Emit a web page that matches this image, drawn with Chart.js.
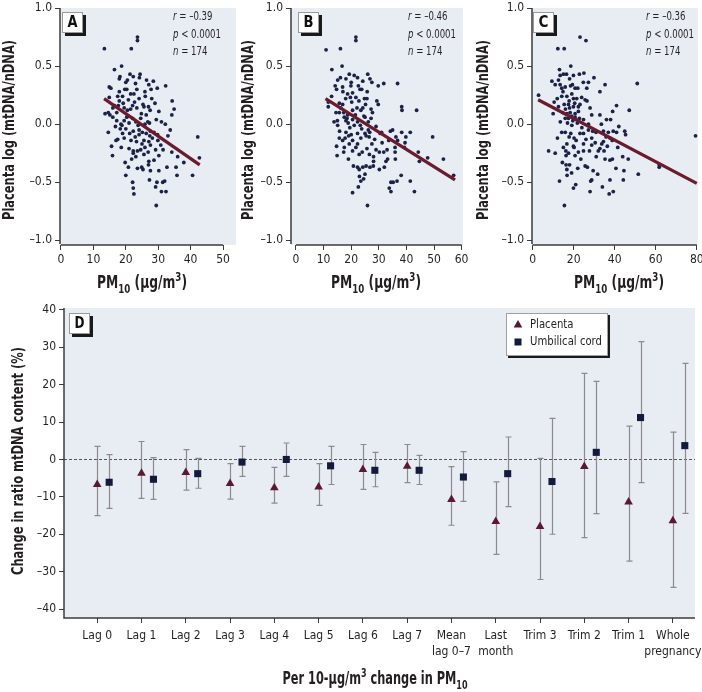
<!DOCTYPE html>
<html>
<head>
<meta charset="utf-8">
<script src="https://cdn.jsdelivr.net/npm/chart.js@4.4.1/dist/chart.umd.min.js"></script>
<style>
    html, body { margin: 0; padding: 0; background: #fff; }
    #page { position: relative; width: 702px; height: 692px; overflow: hidden; background: #fff; }
    canvas { position: absolute; }
</style>
</head>
<body>
<div id="page">
    <canvas id="panelA" width="240" height="300" style="left:0px;top:0px"></canvas>
    <canvas id="panelB" width="240" height="300" style="left:230px;top:0px"></canvas>
    <canvas id="panelC" width="240" height="300" style="left:462px;top:0px"></canvas>
    <canvas id="panelD" width="702" height="392" style="left:0px;top:300px"></canvas>
</div>
<script>
"use strict";

/** DATA */

// Panel A: PM10 exposure vs placental log(mtDNA/nDNA)
const pointsA = [
    [23.6,0.75],[23.6,0.72],[13.4,0.65],[21.7,0.65],[16.5,0.47],[18.7,0.50],[18.2,0.41],[18.0,0.39],[21.3,0.43],[22.3,0.41],
    [24.4,0.43],[20.5,0.38],[26.4,0.38],[28.5,0.37],[27.1,0.34],[29.7,0.31],[32.3,0.33],[14.9,0.32],[15.4,0.31],[19.7,0.30],
    [20.3,0.30],[21.5,0.26],[23.4,0.30],[25.9,0.28],[17.5,0.24],[19.0,0.24],[24.1,0.22],[28.0,0.22],[34.3,0.20],[14.9,0.23],
    [13.6,0.09],[14.6,0.10],[15.1,0.08],[16.5,0.16],[16.0,0.14],[17.7,0.16],[19.5,0.14],[20.5,0.12],[21.5,0.13],[22.1,0.16],
    [23.4,0.14],[25.3,0.17],[25.6,0.15],[27.0,0.15],[27.5,0.12],[26.3,0.08],[30.2,0.11],[34.9,0.13],[34.2,0.08],[16.0,0.06],
    [17.2,0.03],[18.5,0.00],[19.5,0.03],[20.7,0.07],[22.1,0.05],[23.1,0.02],[24.6,0.05],[25.9,0.00],[27.3,0.01],[29.4,0.04],
    [31.0,0.02],[32.2,0.00],[18.8,-0.01],[14.6,-0.07],[18.3,-0.04],[20.0,-0.04],[21.2,-0.08],[22.3,-0.06],[24.1,-0.05],[25.1,-0.07],
    [26.3,-0.08],[27.6,-0.06],[28.7,-0.07],[29.8,-0.09],[27.4,-0.10],[24.1,-0.09],[33.7,-0.05],[17.5,-0.13],[17.0,-0.14],[19.5,-0.12],
    [21.6,-0.14],[23.3,-0.15],[25.6,-0.14],[27.1,-0.15],[29.9,-0.14],[27.6,-0.18],[25.9,-0.20],[24.6,-0.22],[23.6,-0.23],[22.3,-0.23],
    [21.0,-0.21],[18.6,-0.20],[15.6,-0.19],[15.9,-0.27],[22.3,-0.25],[23.1,-0.28],[26.9,-0.24],[29.2,-0.22],[28.7,-0.31],[27.1,-0.32],
    [30.2,-0.27],[34.2,-0.24],[36.0,-0.28],[37.9,-0.33],[42.2,-0.11],[42.7,-0.29],[20.8,-0.37],[23.6,-0.38],[24.9,-0.37],[25.3,-0.39],
    [27.6,-0.40],[30.2,-0.40],[32.7,-0.37],[35.5,-0.37],[35.8,-0.44],[40.6,-0.44],[20.0,-0.44],[22.1,-0.50],[27.3,-0.48],[29.6,-0.50],
    [32.0,-0.49],[31.4,-0.50],[22.3,-0.55],[22.5,-0.60],[29.2,-0.54],[31.0,-0.58],[32.4,-0.58],[29.4,-0.70],[18.0,0.20],[19.2,0.18],
    [20.8,0.21],[22.7,0.19],[24.8,0.09],[21.0,0.01],[23.8,-0.01],[26.8,0.02],[19.0,-0.08],[22.9,-0.11],[25.0,-0.17],[28.2,-0.12],
    [30.8,-0.18],[17.2,0.10],[20.3,0.06],[26.0,0.24],[23.0,0.35],[27.8,0.30],[21.8,-0.30],[25.6,-0.26],[31.5,-0.22],[33.0,-0.10],
    [16.8,-0.02],[18.0,0.28],[24.2,0.40],[20.0,0.36],[29.0,0.18],[27.0,-0.35],[19.8,-0.33],[22.5,0.26]
];

// Panel B
const pointsB = [
    [21.7,0.75],[21.7,0.72],[10.9,0.64],[16.1,0.65],[13.0,0.47],[16.7,0.50],[16.1,0.40],[15.1,0.38],[19.3,0.43],[21.1,0.42],
    [22.3,0.40],[26.0,0.43],[26.8,0.39],[24.2,0.37],[18.1,0.39],[14.2,0.33],[14.7,0.30],[16.9,0.32],[19.9,0.33],[23.2,0.30],
    [23.8,0.30],[29.8,0.33],[31.8,0.35],[36.8,0.35],[18.7,0.26],[20.5,0.27],[21.7,0.23],[19.7,0.23],[24.8,0.22],[25.7,0.22],
    [12.9,0.24],[11.7,0.19],[15.7,0.18],[16.9,0.17],[29.3,0.20],[29.8,0.17],[38.3,0.15],[38.4,0.12],[43.7,0.12],[11.7,0.15],
    [14.5,0.10],[15.7,0.10],[17.3,0.10],[18.7,0.08],[20.5,0.12],[22.1,0.14],[23.5,0.12],[24.2,0.14],[27.2,0.13],[27.7,0.10],
    [17.5,0.06],[18.1,0.03],[18.9,0.01],[20.5,0.04],[22.3,0.02],[23.3,-0.01],[25.0,0.06],[27.2,0.05],[26.2,0.02],[15.0,0.03],
    [15.1,-0.01],[21.1,-0.01],[26.2,-0.05],[26.7,-0.07],[25.0,-0.08],[22.3,-0.08],[20.0,-0.09],[18.1,-0.07],[19.1,-0.10],[15.7,-0.12],
    [16.9,-0.14],[23.5,-0.12],[25.4,-0.10],[31.0,-0.07],[34.2,-0.06],[35.0,-0.05],[38.3,-0.07],[41.4,-0.07],[36.2,-0.11],[39.8,-0.11],
    [33.6,-0.14],[36.8,-0.14],[39.5,-0.16],[49.5,-0.11],[20.5,-0.14],[14.7,-0.19],[17.5,-0.20],[19.3,-0.17],[22.3,-0.17],[27.5,-0.17],
    [25.7,-0.21],[29.0,-0.22],[30.2,-0.24],[31.8,-0.24],[35.9,-0.20],[39.3,-0.20],[14.9,-0.27],[17.3,-0.24],[20.5,-0.23],[22.9,-0.26],
    [26.6,-0.26],[28.1,-0.28],[28.1,-0.32],[33.2,-0.30],[32.6,-0.32],[35.9,-0.24],[44.3,-0.24],[44.7,-0.32],[47.7,-0.29],[53.4,-0.30],
    [57.1,-0.44],[20.8,-0.36],[22.3,-0.37],[22.9,-0.39],[24.2,-0.37],[25.4,-0.36],[28.0,-0.36],[30.2,-0.39],[32.0,-0.37],[25.0,-0.43],
    [23.5,-0.49],[24.5,-0.47],[22.6,-0.54],[20.5,-0.59],[25.9,-0.70],[34.4,-0.50],[35.2,-0.50],[36.6,-0.49],[38.1,-0.44],[33.8,-0.55],
    [34.4,-0.58],[41.4,-0.49],[42.9,-0.58],[18.0,0.22],[20.2,0.19],[22.8,0.20],[24.6,0.07],[21.5,0.08],[19.5,-0.03],[23.8,-0.04],
    [26.5,-0.11],[17.8,-0.12],[21.7,-0.20],[24.0,-0.24],[28.5,-0.13],[30.5,-0.08],[16.2,0.14],[25.8,0.28],[27.5,0.36],[13.8,0.02],
    [20.0,0.36],[31.2,-0.16],[33.0,-0.22],[19.0,-0.30],[26.8,-0.37],[17.0,0.28],[22.6,0.33],[25.2,0.17],[29.0,-0.02],[15.8,-0.06],
    [36.0,-0.30],[23.0,-0.45],[18.5,0.05]
];

// Panel C
const pointsC = [
    [23.1,0.75],[26.0,0.72],[12.3,0.65],[15.4,0.65],[2.9,0.25],[13.1,0.47],[18.6,0.50],[13.4,0.42],[15.0,0.43],[16.5,0.43],
    [19.9,0.42],[18.0,0.39],[22.8,0.43],[12.6,0.38],[9.4,0.37],[11.0,0.34],[13.4,0.34],[14.2,0.31],[15.9,0.32],[19.4,0.34],
    [20.7,0.31],[24.7,0.36],[27.2,0.36],[29.9,0.40],[26.4,0.31],[35.3,0.34],[51.0,0.35],[32.8,0.28],[14.2,0.24],[16.7,0.24],
    [19.1,0.26],[19.9,0.22],[21.5,0.22],[23.9,0.23],[25.6,0.21],[10.5,0.19],[12.6,0.15],[15.4,0.17],[17.5,0.17],[18.0,0.14],
    [19.9,0.15],[22.3,0.15],[23.1,0.17],[40.9,0.16],[47.1,0.12],[39.0,0.11],[14.7,0.10],[16.7,0.09],[18.3,0.10],[20.7,0.09],
    [22.3,0.11],[15.9,0.05],[17.5,0.05],[19.6,0.03],[20.7,0.06],[22.8,0.05],[24.8,0.04],[28.8,0.08],[32.8,0.08],[38.0,0.04],
    [17.0,0.01],[19.1,-0.01],[27.2,0.00],[14.2,-0.07],[15.9,-0.07],[18.6,-0.08],[23.1,-0.08],[24.8,-0.08],[27.2,-0.05],[29.3,-0.06],
    [30.9,-0.07],[34.5,-0.06],[36.9,-0.07],[39.3,-0.06],[40.9,-0.07],[44.9,-0.06],[45.3,-0.09],[12.1,-0.12],[20.2,-0.12],[21.2,-0.14],
    [28.8,-0.12],[35.8,-0.11],[37.7,-0.12],[38.8,-0.14],[34.5,-0.15],[16.7,-0.17],[19.9,-0.19],[24.8,-0.17],[28.8,-0.18],[33.7,-0.17],
    [36.4,-0.19],[79.4,-0.10],[7.8,-0.23],[11.0,-0.25],[16.2,-0.23],[17.5,-0.25],[20.2,-0.20],[22.3,-0.24],[24.8,-0.23],[27.7,-0.23],
    [32.0,-0.23],[32.8,-0.21],[34.8,-0.23],[16.3,-0.27],[20.7,-0.27],[35.3,-0.30],[37.7,-0.31],[38.9,-0.30],[43.9,-0.28],[46.6,-0.30],
    [16.3,-0.35],[18.0,-0.35],[16.7,-0.39],[22.0,-0.38],[25.6,-0.36],[26.7,-0.37],[31.7,-0.43],[40.6,-0.38],[44.5,-0.40],[51.5,-0.43],
    [61.7,-0.35],[61.7,-0.37],[13.1,-0.49],[28.3,-0.49],[28.8,-0.48],[37.7,-0.48],[44.2,-0.48],[19.9,-0.55],[28.0,-0.58],[34.0,-0.54],
    [37.3,-0.60],[39.3,-0.58],[15.5,-0.70],[17.8,0.20],[20.5,0.18],[14.8,0.28],[22.0,0.31],[16.0,0.13],[19.0,0.07],[21.8,0.01],
    [24.0,-0.03],[13.5,0.02],[17.8,-0.11],[26.0,-0.13],[30.5,-0.16],[15.0,-0.20],[23.5,-0.30],[19.0,-0.42],[31.0,-0.28],[28.0,0.14],
    [12.0,0.22],[18.5,0.33],[26.5,0.20],[33.5,0.00],[41.5,-0.20],[42.0,-0.02],[21.0,-0.52],[14.5,-0.33],[25.0,0.44],[16.8,-0.44],
    [36.0,0.04],[10.0,0.09],[29.5,-0.40]
];

// Regression lines (end points)
const fitA = [[13.3, 0.22], [42.8, -0.35]];
const fitB = [[10.7, 0.22], [57.6, -0.48]];
const fitC = [[2.7, 0.21], [80.0, -0.51]];

// Correlation statistics
const corrR = ['–0.39', '–0.46', '–0.36'];
const pValue = '0.0001';
const nSamples = 174;

// Tick labels
const xTicksA = [0, 10, 20, 30, 40, 50];
const xTicksB = [0, 10, 20, 30, 40, 50, 60];
const xTicksC = [0, 20, 40, 60, 80];
const yTicksScatter = [-1, -0.5, 0, 0.5, 1];

// Panel D: change in mtDNA content per 10-µg/m³ PM10
const periods = [
    'Lag 0', 'Lag 1', 'Lag 2', 'Lag 3', 'Lag 4', 'Lag 5', 'Lag 6', 'Lag 7',
    ['Mean', 'lag 0–7'], ['Last', 'month'], 'Trim 3', 'Trim 2', 'Trim 1', ['Whole', 'pregnancy']
];
const placentaEst  = [-6.7, -3.7, -3.5, -6.4, -7.6, -7.4, -2.7, -1.8, -10.7, -16.6, -17.9, -1.9, -11.4, -16.4];
const placentaLow  = [-15.0, -10.4, -8.2, -10.6, -11.7, -12.3, -8.0, -6.2, -17.6, -25.4, -32.1, -20.9, -27.2, -34.2];
const placentaHigh = [3.5, 4.8, 2.6, -1.1, -2.1, -1.1, 4.0, 4.0, -1.9, -6.0, 0.3, 23.0, 8.9, 7.3];
const cordEst  = [-6.1, -5.3, -3.8, -0.7, 0.0, -1.7, -2.9, -2.9, -4.7, -3.8, -5.9, 1.9, 11.2, 3.7];
const cordLow  = [-13.1, -10.7, -7.7, -4.5, -4.5, -6.7, -7.3, -6.7, -11.2, -12.6, -20.0, -14.5, -6.2, -14.4];
const cordHigh = [1.3, 0.5, 0.3, 3.5, 4.4, 3.5, 1.9, 1.1, 2.1, 6.0, 11.0, 20.9, 31.5, 25.7];
const yTicksD = [-40, -30, -20, -10, 0, 10, 20, 30, 40];


/** STYLE */

const FONT = "'Liberation Sans Narrow', 'DejaVu Sans Condensed', 'Arial Narrow', sans-serif";
const INK = '#231f20';
const AXIS = '#3b3b3b';
const PANEL_BG = '#e8edf3';
const DOT = '#1b2246';
const FIT = '#6b1b2d';
const TRI = '#5a1932';
const SQR = '#141a3c';
const WHISKER = '#8b8b8b';
const CORD_SHIFT = 0.27;

Chart.defaults.font.family = FONT;
Chart.defaults.color = INK;
Chart.defaults.animation = false;

const PM10_LABEL = [['PM', ''], ['10', 'sub'], [' (µg/m', ''], ['3', 'sup'], [')', '']];
const D_LABEL = [['Per 10-µg/m', ''], ['3', 'sup'], [' change in PM', ''], ['10', 'sub']];


/** HELPERS */

const signed = (v, digits) => (v < 0 ? '–' : '') + Math.abs(v).toFixed(digits);

// Squeeze text horizontally to a given width (condensed look)
const fitText = (ctx, text, x, y, width) => {
    const s = Math.min(1, width / ctx.measureText(text).width);
    ctx.save();
    ctx.translate(x, y);
    ctx.scale(s, 1);
    ctx.fillText(text, 0, 0);
    ctx.restore();
};

// Bold title with sub/superscripts, centered on cx and squeezed to width
const drawRich = (ctx, parts, cx, baseline, size, width) => {
    const fontFor = mode => `bold ${mode ? Math.round(size * 0.68) : size}px ${FONT}`;
    let natural = 0;
    parts.forEach(([t, mode]) => { ctx.font = fontFor(mode); natural += ctx.measureText(t).width; });
    const s = width / natural;
    ctx.save();
    ctx.translate(cx - width / 2, baseline);
    ctx.scale(s, 1);
    ctx.textAlign = 'left';
    ctx.textBaseline = 'alphabetic';
    ctx.fillStyle = INK;
    let x = 0;
    parts.forEach(([t, mode]) => {
        ctx.font = fontFor(mode);
        const dy = mode === 'sub' ? size * 0.28 : mode === 'sup' ? -size * 0.42 : 0;
        ctx.fillText(t, x, dy);
        x += ctx.measureText(t).width;
    });
    ctx.restore();
};

// Rotated axis title
const drawVertical = (ctx, text, x, y, size, width) => {
    ctx.save();
    ctx.translate(x, y);
    ctx.rotate(-Math.PI / 2);
    ctx.font = `bold ${size}px ${FONT}`;
    ctx.fillStyle = INK;
    ctx.textAlign = 'center';
    ctx.textBaseline = 'middle';
    fitText(ctx, text, 0, 0, width);
    ctx.restore();
};

// Boxed panel letter with drop shadow
const drawTag = (ctx, letter, x, y) => {
    ctx.fillStyle = '#1a1a1a';
    ctx.fillRect(x + 3, y + 3, 21, 21);
    ctx.fillStyle = '#fff';
    ctx.fillRect(x, y, 21, 21);
    ctx.strokeStyle = '#9a9a9a';
    ctx.lineWidth = 1;
    ctx.strokeRect(x + 0.5, y + 0.5, 20, 20);
    ctx.fillStyle = '#111';
    ctx.font = `bold 15px ${FONT}`;
    ctx.textAlign = 'center';
    ctx.textBaseline = 'middle';
    fitText(ctx, letter, x + 10.5, y + 11.5, 10);
};

const drawTriangle = (ctx, x, y, r) => {
    ctx.beginPath();
    ctx.moveTo(x, y - r);
    ctx.lineTo(x + r * 0.866, y + r * 0.5);
    ctx.lineTo(x - r * 0.866, y + r * 0.5);
    ctx.closePath();
    ctx.fill();
};

// Light blue plotting area
const panelBackground = {
    id: 'panelBackground',
    beforeDraw(chart) {
        const { ctx, chartArea: a } = chart;
        ctx.save();
        ctx.fillStyle = PANEL_BG;
        ctx.fillRect(a.left, a.top, a.right - a.left, a.bottom - a.top);
        ctx.restore();
    }
};


/** SCATTER PANELS (A–C) */

const scatterFrame = cfg => ({
    id: 'scatterFrame',
    afterDraw(chart) {
        const { ctx, chartArea: a, scales: { x } } = chart;
        ctx.save();

        // Axis lines
        ctx.strokeStyle = AXIS;
        ctx.lineWidth = 1.5;
        ctx.beginPath();
        ctx.moveTo(a.left, a.top);
        ctx.lineTo(a.left, a.bottom - 1);
        ctx.moveTo(x.getPixelForValue(cfg.xTicks[0]), a.bottom);
        ctx.lineTo(x.getPixelForValue(cfg.xTicks[cfg.xTicks.length - 1]), a.bottom);
        ctx.stroke();

        drawTag(ctx, cfg.tag, cfg.tagX, 12);

        // r, p, n (squeezed so "p < 0.0001" is about 48px wide)
        const rows = [['r', ` = ${cfg.r}`], ['p', ` < ${pValue}`], ['n', ` = ${nSamples}`]];
        ctx.font = `italic 13px ${FONT}`;
        const pW = ctx.measureText('p').width;
        ctx.font = `13px ${FONT}`;
        const squeeze = 48 / (pW + ctx.measureText(` < ${pValue}`).width);
        ctx.fillStyle = INK;
        ctx.textAlign = 'left';
        ctx.textBaseline = 'middle';
        rows.forEach(([sym, rest], i) => {
            ctx.save();
            ctx.translate(cfg.statsX, 17 + i * 17.5);
            ctx.scale(squeeze, 1);
            ctx.font = `italic 13px ${FONT}`;
            ctx.fillText(sym, 0, 0);
            const w = ctx.measureText(sym).width;
            ctx.font = `13px ${FONT}`;
            ctx.fillText(rest, w, 0);
            ctx.restore();
        });

        drawVertical(ctx, 'Placenta log (mtDNA/nDNA)', cfg.yTitleX, 130, 16, 180);
        drawRich(ctx, PM10_LABEL, cfg.xTitleX, 288, 17, 90);
        ctx.restore();
    }
});

const scatterPanel = (id, cfg) => new Chart(document.getElementById(id), {
    type: 'scatter',
    data: {
        datasets: [{
            type: 'line',
            data: cfg.fit.map(([x, y]) => ({ x, y })),
            borderColor: FIT,
            borderWidth: 3.2,
            pointRadius: 0
        }, {
            data: cfg.points.map(([x, y]) => ({ x, y })),
            pointRadius: 1.9,
            pointBackgroundColor: DOT,
            pointBorderWidth: 0
        }]
    },
    options: {
        responsive: false,
        devicePixelRatio: 1,
        events: [],
        layout: { padding: { left: 0, top: 8, right: cfg.padRight, bottom: 0 } },
        plugins: { legend: { display: false }, tooltip: { enabled: false } },
        scales: {
            x: {
                type: 'linear',
                min: cfg.xMin,
                max: cfg.xMax,
                afterBuildTicks: s => { s.ticks = cfg.xTicks.map(v => ({ value: v })); },
                afterFit: s => { s.height = 55; s.paddingLeft = 0; s.paddingRight = 0; },
                border: { display: false },
                grid: { drawOnChartArea: false, tickLength: 5, color: AXIS, tickColor: AXIS },
                ticks: { font: { size: 12 }, color: INK, padding: 3, maxRotation: 0, autoSkip: false, callback: v => String(v) }
            },
            y: {
                type: 'linear',
                min: -1.04,
                max: 1.0,
                afterBuildTicks: s => { s.ticks = yTicksScatter.map(v => ({ value: v })); },
                afterFit: s => { s.width = cfg.yWidth; s.paddingTop = 0; s.paddingBottom = 0; },
                border: { display: false },
                grid: { drawOnChartArea: false, tickLength: 5, color: AXIS, tickColor: AXIS },
                ticks: { font: { size: 12 }, color: INK, padding: 3, autoSkip: false, callback: v => signed(v, 1) }
            }
        }
    },
    plugins: [panelBackground, scatterFrame(cfg)]
});

// Panel A
scatterPanel('panelA', {
    points: pointsA, fit: fitA, xTicks: xTicksA, xMin: -0.3, xMax: 54.0,
    yWidth: 60, padRight: 2, tag: 'A', tagX: 62, r: corrR[0], statsX: 173, yTitleX: 10, xTitleX: 142
});

// Panel B
scatterPanel('panelB', {
    points: pointsB, fit: fitB, xTicks: xTicksB, xMin: -1.8, xMax: 60.5,
    yWidth: 61, padRight: 7, tag: 'B', tagX: 68, r: corrR[1], statsX: 178, yTitleX: 19, xTitleX: 146
});

// Panel C
scatterPanel('panelC', {
    points: pointsC, fit: fitC, xTicks: xTicksC, xMin: -0.3, xMax: 80.6,
    yWidth: 70, padRight: 4, tag: 'C', tagX: 71, r: corrR[2], statsX: 184, yTitleX: 22, xTitleX: 157
});


/** PANEL D: ESTIMATES WITH 95% CI */

const errorBars = {
    id: 'errorBars',
    beforeDatasetsDraw(chart) {
        const { ctx, chartArea: a, scales: { x, y } } = chart;
        ctx.save();

        // Dashed reference line at zero
        const y0 = Math.round(y.getPixelForValue(0)) + 0.5;
        ctx.strokeStyle = '#555';
        ctx.lineWidth = 1;
        ctx.setLineDash([3, 2]);
        ctx.beginPath();
        ctx.moveTo(a.left, y0);
        ctx.lineTo(a.right, y0);
        ctx.stroke();
        ctx.setLineDash([]);

        // Whiskers
        ctx.strokeStyle = WHISKER;
        ctx.lineWidth = 1.2;
        chart.data.datasets.forEach(ds => {
            ds.data.forEach((pt, i) => {
                const px = Math.round(x.getPixelForValue(pt.x)) + 0.5;
                const top = y.getPixelForValue(ds.high[i]);
                const bot = y.getPixelForValue(ds.low[i]);
                ctx.beginPath();
                ctx.moveTo(px, top);
                ctx.lineTo(px, bot);
                ctx.moveTo(px - 3, top);
                ctx.lineTo(px + 3, top);
                ctx.moveTo(px - 3, bot);
                ctx.lineTo(px + 3, bot);
                ctx.stroke();
            });
        });
        ctx.restore();
    }
};

const frameD = {
    id: 'frameD',
    afterDraw(chart) {
        const { ctx, chartArea: a } = chart;
        ctx.save();

        // Axis lines
        ctx.strokeStyle = AXIS;
        ctx.lineWidth = 1.5;
        ctx.beginPath();
        ctx.moveTo(a.left, a.top);
        ctx.lineTo(a.left, a.bottom);
        ctx.lineTo(a.right, a.bottom);
        ctx.stroke();

        drawTag(ctx, 'D', 69, 13);

        // Legend box
        const lx = 506, ly = 13;
        ctx.fillStyle = '#1a1a1a';
        ctx.fillRect(lx + 2, ly + 2, 102, 43);
        ctx.fillStyle = '#fff';
        ctx.fillRect(lx, ly, 102, 43);
        ctx.strokeStyle = '#a0a0a0';
        ctx.lineWidth = 1;
        ctx.strokeRect(lx + 0.5, ly + 0.5, 101, 42);

        const [placenta, cord] = chart.data.datasets;
        ctx.fillStyle = TRI;
        drawTriangle(ctx, lx + 12, ly + 12, 5);
        ctx.fillStyle = SQR;
        ctx.fillRect(lx + 8.5, ly + 25.5, 7, 7);
        ctx.fillStyle = INK;
        ctx.font = `13px ${FONT}`;
        ctx.textAlign = 'left';
        ctx.textBaseline = 'middle';
        const squeeze = 72 / ctx.measureText(cord.label).width;
        fitText(ctx, placenta.label, lx + 24, ly + 12, ctx.measureText(placenta.label).width * squeeze);
        fitText(ctx, cord.label, lx + 24, ly + 29, 72);

        drawVertical(ctx, 'Change in ratio mtDNA content (%)', 19, 161, 16, 228);
        drawRich(ctx, D_LABEL, 375, 384, 17, 185);
        ctx.restore();
    }
};

new Chart(document.getElementById('panelD'), {
    type: 'scatter',
    data: {
        datasets: [{
            label: 'Placenta',
            data: placentaEst.map((v, i) => ({ x: i, y: v })),
            low: placentaLow,
            high: placentaHigh,
            pointStyle: 'triangle',
            pointRadius: 5,
            pointBackgroundColor: TRI,
            pointBorderWidth: 0
        }, {
            label: 'Umbilical cord',
            data: cordEst.map((v, i) => ({ x: i + CORD_SHIFT, y: v })),
            low: cordLow,
            high: cordHigh,
            pointStyle: 'rect',
            pointRadius: 5,
            pointBackgroundColor: SQR,
            pointBorderWidth: 0
        }]
    },
    options: {
        responsive: false,
        devicePixelRatio: 1,
        events: [],
        layout: { padding: { left: 0, top: 8, right: 7, bottom: 0 } },
        plugins: { legend: { display: false }, tooltip: { enabled: false } },
        scales: {
            x: {
                type: 'linear',
                min: -0.75,
                max: 13.5,
                afterBuildTicks: s => { s.ticks = periods.map((_, i) => ({ value: i })); },
                afterFit: s => { s.height = 74; s.paddingLeft = 0; s.paddingRight = 0; },
                border: { display: false },
                grid: { drawOnChartArea: false, tickLength: 5, color: AXIS, tickColor: AXIS },
                ticks: { font: { size: 12, lineHeight: 1.3 }, color: INK, padding: 5, maxRotation: 0, autoSkip: false, callback: v => periods[v] }
            },
            y: {
                type: 'linear',
                min: -42.4,
                max: 40.5,
                afterBuildTicks: s => { s.ticks = yTicksD.map(v => ({ value: v })); },
                afterFit: s => { s.width = 64; s.paddingTop = 0; s.paddingBottom = 0; },
                border: { display: false },
                grid: { drawOnChartArea: false, tickLength: 5, color: AXIS, tickColor: AXIS },
                ticks: { font: { size: 12 }, color: INK, padding: 3, autoSkip: false, callback: v => signed(v, 0) }
            }
        }
    },
    plugins: [panelBackground, errorBars, frameD]
});
</script>
</body>
</html>
